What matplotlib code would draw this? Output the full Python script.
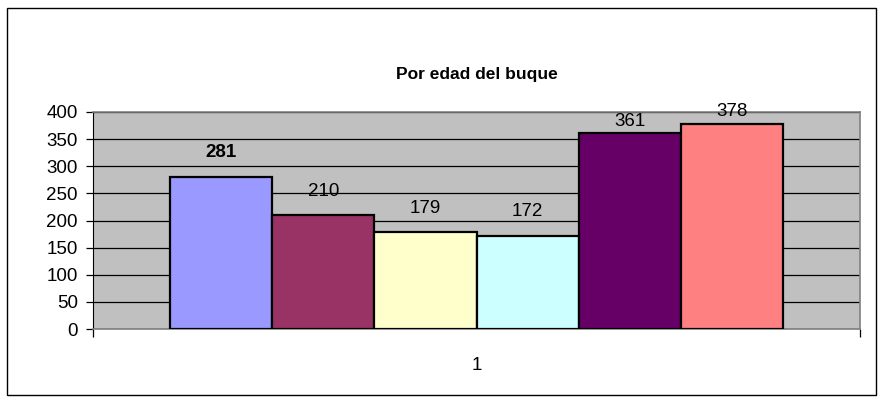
import matplotlib
matplotlib.use("Agg")
from matplotlib import pyplot as plt
from matplotlib.patches import Rectangle

plt.rcParams['font.family'] = ['Liberation Sans', 'DejaVu Sans']

# Datos
values = [281, 210, 179, 172, 361, 378]
colors = ['#9999FF', '#993366', '#FFFFCC', '#CCFFFF', '#660066', '#FF8080']
category = '1'
title = 'Por edad del buque'
y_ticks = [0, 50, 100, 150, 200, 250, 300, 350, 400]

fig = plt.figure(figsize=(8.84, 4.03), dpi=100)
ax = fig.add_axes([93 / 884, 74 / 403, 767 / 884, 217 / 403])

# marco exterior del grafico
fig.patches.append(Rectangle((7 / 884, 8 / 403), 869 / 884, 387 / 403,
                             transform=fig.transFigure, fill=False,
                             edgecolor='black', linewidth=1.0))

ax.set_facecolor('#C0C0C0')
positions = list(range(len(values)))
ax.bar(positions, values, width=1.0, color=colors, edgecolor='black',
       linewidth=1.6, zorder=3)

# etiquetas de datos
for i, v in enumerate(values):
    ly = v + 44 if v + 44 < 380 else v + 22
    ax.text(i, ly, str(v), ha='center', va='center', fontsize=13.5,
            fontweight='bold' if i == 0 else 'normal', zorder=4)

gap = 0.755
ax.set_xlim(-0.5 - gap, len(values) - 0.5 + gap)
ax.set_ylim(0, 400)
ax.set_yticks(y_ticks)
ax.yaxis.grid(True, color='black', linewidth=0.9, zorder=0)
ax.set_axisbelow(True)
ax.tick_params(axis='y', direction='out', length=5, width=0.9,
               labelsize=13.5, pad=6)

# eje de categorias: marcas en los extremos, etiqueta en el centro
ax.set_xticks([-0.5 - gap, len(values) - 0.5 + gap])
ax.set_xticklabels(['', ''])
ax.tick_params(axis='x', direction='out', length=6, width=0.9)
ax.set_xticks([(len(values) - 1) / 2], minor=True)
ax.set_xticklabels([category], minor=True)
ax.tick_params(axis='x', which='minor', length=0, labelsize=13.5, pad=20)

for side in ['top', 'right']:
    ax.spines[side].set_color('#808080')
    ax.spines[side].set_linewidth(1.2)
ax.spines['left'].set_color('black')
ax.spines['bottom'].set_color('#808080')
ax.spines['bottom'].set_linewidth(1.2)

fig.text(477 / 884, 1 - 75 / 403, title, ha='center', va='center',
         fontsize=12.5, fontweight='bold')

fig.savefig('out.png', dpi=100)
